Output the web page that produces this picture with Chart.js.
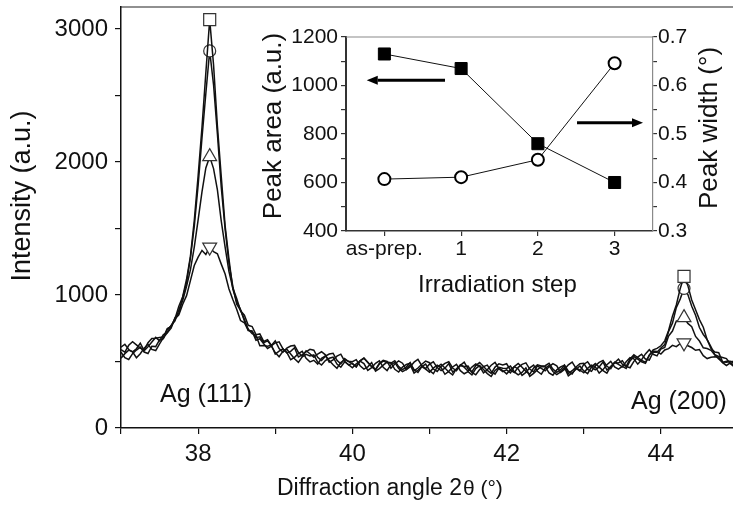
<!DOCTYPE html>
<html>
<head>
<meta charset="utf-8">
<title>Ag XRD peaks vs irradiation step</title>
<script src="https://cdn.jsdelivr.net/npm/chart.js@4.4.1/dist/chart.umd.min.js"></script>
<style>
  html, body { margin: 0; padding: 0; background: #fff; }
  #wrap { position: relative; width: 733px; height: 505px; overflow: hidden; }
  #xrdChart { position: absolute; left: 0; top: 0; }
  #insetChart { position: absolute; left: 250px; top: 20px; }
</style>
</head>
<body>
<div id="wrap">
  <canvas id="xrdChart" width="740" height="505"></canvas>
  <canvas id="insetChart" width="483" height="280"></canvas>
</div>
<script>
// scan grid of the diffractometer: 37.00 .. 45.00 deg, 0.05 deg steps
const SCAN_START = 37.0;
const SCAN_STEP = 0.05;
const SCAN_POINTS = 161;
const ANGLES = Array.from({ length: SCAN_POINTS }, (_, i) => +(SCAN_START + i * SCAN_STEP).toFixed(2));

// markers sit on the top of each reflection
const PEAK_ANGLES = [38.15, 44.3];

// intensities, one row = 0.5 deg
const I_ASPREP = [
  571, 528, 515, 559, 586, 608, 571, 560, 615, 612,
  662, 671, 741, 768, 822, 915, 987, 1118, 1290, 1560,
  1895, 2260, 2670, 3070, 2730, 2270, 1890, 1520, 1270, 1045,
  952, 891, 804, 742, 709, 697, 619, 621, 614, 623,
  555, 578, 594, 569, 513, 531, 560, 576, 524, 497,
  509, 481, 524, 542, 508, 475, 449, 493, 513, 502,
  498, 514, 468, 443, 460, 492, 427, 447, 473, 495,
  491, 441, 421, 458, 478, 488, 439, 417, 461, 442,
  420, 450, 472, 454, 404, 426, 459, 479, 431, 408,
  424, 400, 447, 469, 440, 409, 387, 433, 457, 449,
  448, 466, 422, 399, 418, 452, 389, 411, 439, 463,
  461, 414, 397, 437, 460, 473, 427, 407, 453, 436,
  415, 448, 473, 459, 413, 439, 476, 501, 459, 442,
  464, 448, 504, 537, 518, 498, 486, 548, 587, 599,
  618, 655, 733, 841, 925, 1047, 1140, 1070, 962, 889,
  815, 758, 664, 598, 571, 566, 497, 494, 499, 502,
  462
];
const I_STEP1 = [
  525, 559, 585, 572, 528, 558, 600, 629, 591, 582,
  633, 679, 716, 751, 829, 862, 983, 1093, 1279, 1515,
  1825, 2180, 2515, 2835, 2580, 2210, 1810, 1495, 1235, 1064,
  931, 884, 817, 736, 728, 660, 671, 633, 598, 615,
  567, 536, 576, 592, 556, 520, 493, 535, 554, 541,
  549, 496, 473, 507, 524, 532, 481, 457, 498, 477,
  453, 482, 503, 484, 433, 454, 486, 505, 456, 432,
  476, 493, 448, 424, 441, 475, 412, 434, 461, 481,
  432, 409, 457, 480, 451, 421, 399, 446, 470, 462,
  466, 418, 400, 439, 461, 473, 426, 405, 450, 432,
  407, 438, 461, 444, 395, 418, 452, 473, 426, 404,
  451, 469, 425, 402, 421, 455, 392, 414, 442, 466,
  429, 408, 458, 484, 458, 431, 412, 463, 492, 489,
  506, 463, 453, 501, 533, 555, 518, 510, 570, 569,
  601, 627, 726, 788, 905, 969, 1050, 1003, 915, 848,
  755, 703, 665, 611, 551, 538, 530, 522, 484, 460,
  466
];
const I_STEP2 = [
  608, 630, 590, 572, 596, 637, 581, 611, 647, 681,
  655, 703, 717, 771, 805, 887, 958, 1066, 1188, 1360,
  1565, 1775, 1955, 2040, 1950, 1790, 1555, 1360, 1175, 1052,
  974, 881, 848, 772, 763, 702, 707, 651, 664, 621,
  655, 597, 570, 601, 616, 621, 568, 541, 581, 558,
  531, 556, 573, 550, 495, 512, 540, 555, 502, 474,
  486, 460, 505, 525, 493, 460, 436, 481, 503, 493,
  488, 506, 462, 439, 458, 492, 429, 451, 479, 503,
  491, 443, 425, 464, 486, 498, 451, 430, 475, 457,
  427, 458, 481, 464, 415, 438, 472, 493, 446, 424,
  437, 414, 462, 485, 456, 426, 404, 451, 475, 467,
  468, 486, 442, 419, 438, 472, 409, 431, 459, 483,
  486, 441, 426, 468, 493, 508, 464, 446, 494, 479,
  460, 498, 529, 520, 480, 513, 557, 589, 554, 542,
  594, 605, 691, 729, 804, 812, 830, 786, 762, 688,
  654, 603, 597, 584, 549, 519, 493, 502, 501, 487,
  470
];
const I_STEP3 = [
  589, 570, 622, 649, 625, 601, 586, 641, 673, 675,
  681, 684, 747, 762, 819, 851, 931, 995, 1108, 1222,
  1285, 1335, 1305, 1360, 1325, 1310, 1232, 1158, 1045, 966,
  893, 808, 791, 733, 728, 679, 686, 641, 655, 619,
  640, 648, 595, 564, 576, 603, 534, 550, 573, 592,
  585, 531, 507, 540, 556, 562, 509, 482, 522, 499,
  484, 459, 505, 526, 495, 463, 440, 486, 509, 501,
  450, 481, 504, 487, 438, 461, 495, 516, 469, 447,
  480, 498, 454, 431, 450, 484, 421, 443, 471, 495,
  444, 421, 469, 492, 463, 433, 411, 458, 482, 474,
  483, 435, 417, 456, 478, 490, 443, 422, 467, 449,
  430, 461, 484, 467, 418, 441, 475, 496, 449, 427,
  478, 498, 457, 437, 459, 496, 436, 461, 491, 518,
  479, 463, 519, 550, 530, 508, 494, 548, 579, 576,
  556, 587, 597, 621, 612, 634, 640, 618, 605, 584,
  590, 544, 522, 532, 535, 533, 491, 470, 490, 472,
  468
];

const X_TICKS = [38, 40, 42, 44];
const Y_TICKS = [0, 1000, 2000, 3000];
const Y_TICK_MARKS = [0, 500, 1000, 1500, 2000, 2500, 3000];

// inset
const STEP_LABELS = ["as-prep.", "1", "2", "3"];
const PEAK_AREA = [1130, 1070, 760, 600];
const PEAK_WIDTH = [0.407, 0.411, 0.447, 0.646];

(function () {
  const FONT = '"Liberation Sans", Arial, Helvetica, sans-serif';
  Chart.defaults.font.family = FONT;
  Chart.defaults.color = "#111";

  const qs = (s) => document.querySelector(s);

  // fixed axis box sizes so the plot areas land where the figure has them
  const fixSize = (prop, size) => (scale) => {
    scale[prop] = size;
    scale.paddingTop = 0;
    scale.paddingBottom = 0;
    scale.paddingLeft = 0;
    scale.paddingRight = 0;
  };

  /* =========================================================
     MAIN XRD PLOT
  ========================================================= */

  const MARKER_SIZE = { rect: 8.5, circle: 6, triangle: 8 };

  function curve(label, values, style, rotation) {
    return {
      label,
      data: values.map((y, i) => ({ x: ANGLES[i], y })),
      borderColor: "#111",
      borderWidth: 1.5,
      tension: 0,
      pointStyle: style,
      pointRotation: rotation || 0,
      pointRadius: (ctx) => (ctx.raw && PEAK_ANGLES.includes(ctx.raw.x) ? MARKER_SIZE[style] : 0),
      pointBackgroundColor: "#fff",
      pointBorderColor: "#333",
      pointBorderWidth: 1.2,
    };
  }

  const frame = {
    id: "frame",
    afterDraw(chart) {
      const { ctx, chartArea: a } = chart;
      ctx.save();
      ctx.strokeStyle = "#222";
      ctx.lineWidth = 1.2;
      ctx.beginPath();
      ctx.moveTo(a.left, a.top);
      ctx.lineTo(a.right, a.top);
      ctx.lineTo(a.right, a.bottom);
      ctx.stroke();
      ctx.restore();
    },
  };

  function text(ctx, str, x, y, size, opts = {}) {
    ctx.save();
    ctx.font = `${size}px ${FONT}`;
    ctx.fillStyle = "#111";
    ctx.textAlign = opts.align || "left";
    ctx.textBaseline = opts.baseline || "alphabetic";
    ctx.translate(x, y);
    if (opts.rotate) ctx.rotate(opts.rotate);
    ctx.fillText(str, 0, 0);
    const w = ctx.measureText(str).width;
    ctx.restore();
    return w;
  }

  const labels = {
    id: "labels",
    afterDraw(chart) {
      const ctx = chart.ctx;
      const up = -Math.PI / 2;
      text(ctx, "Intensity (a.u.)", 23, 196, 27, { align: "center", baseline: "middle", rotate: up });
      const w = text(ctx, "Diffraction angle 2", 277, 495, 23);
      text(ctx, "\u03B8 (\u00B0)", 277 + w + 1, 495, 21);
      text(ctx, "Ag (111)", 160, 402, 25);
      text(ctx, "Ag (200)", 631, 409, 25);
      // inset titles
      text(ctx, "Peak area (a.u.)", 274, 126, 26, { align: "center", baseline: "middle", rotate: up });
      text(ctx, "Peak width (\u00B0)", 710, 128, 26, { align: "center", baseline: "middle", rotate: up });
      text(ctx, "Irradiation step", 418, 292, 24);
    },
  };

  new Chart(qs("#xrdChart"), {
    type: "line",
    data: {
      datasets: [
        curve("as-prep.", I_ASPREP, "rect"),
        curve("step 1", I_STEP1, "circle"),
        curve("step 2", I_STEP2, "triangle"),
        curve("step 3", I_STEP3, "triangle", 180),
      ],
    },
    options: {
      responsive: false,
      animation: false,
      events: [],
      layout: { padding: { top: 7, right: 2, left: 0, bottom: 0 } },
      plugins: { legend: { display: false }, tooltip: { enabled: false } },
      scales: {
        x: {
          type: "linear",
          min: 37,
          max: 45,
          border: { display: true, color: "#111", width: 1.5 },
          grid: { drawOnChartArea: false, drawTicks: true, tickLength: 6, color: "#111", lineWidth: 1.2 },
          ticks: {
            stepSize: 1,
            autoSkip: false,
            maxRotation: 0,
            padding: 6,
            color: "#111",
            font: { size: 24 },
            callback: (v) => (X_TICKS.includes(v) ? String(v) : ""),
          },
          afterFit: fixSize("height", 77),
        },
        y: {
          min: 0,
          max: 3165,
          border: { display: true, color: "#111", width: 1.5 },
          grid: { drawOnChartArea: false, drawTicks: true, tickLength: 6, color: "#111", lineWidth: 1.2 },
          afterBuildTicks: (scale) => {
            scale.ticks = Y_TICK_MARKS.map((value) => ({ value }));
          },
          ticks: {
            autoSkip: false,
            padding: 7,
            color: "#111",
            font: { size: 24 },
            callback: (v) => (Y_TICKS.includes(v) ? String(v) : ""),
          },
          afterFit: fixSize("width", 121),
        },
      },
    },
    plugins: [frame, labels],
  });

  /* =========================================================
     INSET: PEAK AREA / PEAK WIDTH
  ========================================================= */

  // arrows point each series to its axis, in the inset's data units
  const ARROWS = [
    { axis: "yArea", value: 1022, from: 0.79, to: -0.23 },
    { axis: "yWidth", value: 0.523, from: 2.51, to: 3.37 },
  ];

  const insetFrame = {
    id: "insetFrame",
    afterDraw(chart) {
      const { ctx, chartArea: a } = chart;
      ctx.save();
      ctx.strokeStyle = "#8a8a8a";
      ctx.lineWidth = 1.2;
      ctx.beginPath();
      ctx.moveTo(a.left, a.top);
      ctx.lineTo(a.right, a.top);
      ctx.stroke();
      ctx.restore();
    },
  };

  const arrows = {
    id: "arrows",
    afterDatasetsDraw(chart) {
      const ctx = chart.ctx;
      const xs = chart.scales.x;
      ctx.save();
      ctx.strokeStyle = "#000";
      ctx.fillStyle = "#000";
      ctx.lineWidth = 3;
      ARROWS.forEach((a) => {
        const ys = chart.scales[a.axis];
        const y = ys.getPixelForValue(a.value);
        const x0 = xs.getPixelForValue(a.from);
        const x1 = xs.getPixelForValue(a.to);
        const dir = Math.sign(x1 - x0);
        const head = 11;
        ctx.beginPath();
        ctx.moveTo(x0, y);
        ctx.lineTo(x1 - dir * head, y);
        ctx.stroke();
        ctx.beginPath();
        ctx.moveTo(x1, y);
        ctx.lineTo(x1 - dir * head, y - 4.5);
        ctx.lineTo(x1 - dir * head, y + 4.5);
        ctx.closePath();
        ctx.fill();
      });
      ctx.restore();
    },
  };

  const insetTickGrid = { drawOnChartArea: false, drawTicks: true, color: "#333", lineWidth: 1.2 };

  new Chart(qs("#insetChart"), {
    type: "line",
    data: {
      labels: STEP_LABELS,
      datasets: [
        {
          label: "Peak area",
          data: PEAK_AREA,
          yAxisID: "yArea",
          borderColor: "#111",
          borderWidth: 1,
          tension: 0,
          pointStyle: "rect",
          pointRadius: 8.5,
          pointBackgroundColor: "#000",
          pointBorderColor: "#000",
          pointBorderWidth: 1,
        },
        {
          label: "Peak width",
          data: PEAK_WIDTH,
          yAxisID: "yWidth",
          borderColor: "#111",
          borderWidth: 1,
          tension: 0,
          pointStyle: "circle",
          pointRadius: 6,
          pointBackgroundColor: "#fff",
          pointBorderColor: "#000",
          pointBorderWidth: 2,
        },
      ],
    },
    options: {
      responsive: false,
      animation: false,
      events: [],
      layout: { padding: { top: 17, right: 0, left: 0, bottom: 0 } },
      plugins: { legend: { display: false }, tooltip: { enabled: false } },
      scales: {
        x: {
          type: "category",
          offset: true,
          border: { display: true, color: "#333", width: 1.5 },
          grid: { ...insetTickGrid, tickLength: 5 },
          ticks: { padding: 1, maxRotation: 0, autoSkip: false, color: "#111", font: { size: 21 } },
          afterFit: fixSize("height", 69),
        },
        yArea: {
          position: "left",
          min: 400,
          max: 1200,
          border: { display: true, color: "#333", width: 2 },
          grid: { ...insetTickGrid, tickLength: 5 },
          ticks: {
            stepSize: 100,
            autoSkip: false,
            padding: 3,
            color: "#111",
            font: { size: 21 },
            callback: (v) => (v % 200 === 0 ? String(v) : ""),
          },
          afterFit: fixSize("width", 96),
        },
        yWidth: {
          position: "right",
          min: 0.3,
          max: 0.7,
          border: { display: true, color: "#8a8a8a", width: 1.2 },
          grid: { ...insetTickGrid, tickLength: 4 },
          ticks: {
            stepSize: 0.05,
            autoSkip: false,
            padding: 1,
            color: "#111",
            font: { size: 21 },
            callback: (v) => (Math.round(v * 100) % 10 === 0 ? v.toFixed(1) : ""),
          },
          afterFit: fixSize("width", 80),
        },
      },
    },
    plugins: [insetFrame, arrows],
  });
})();
</script>
</body>
</html>
